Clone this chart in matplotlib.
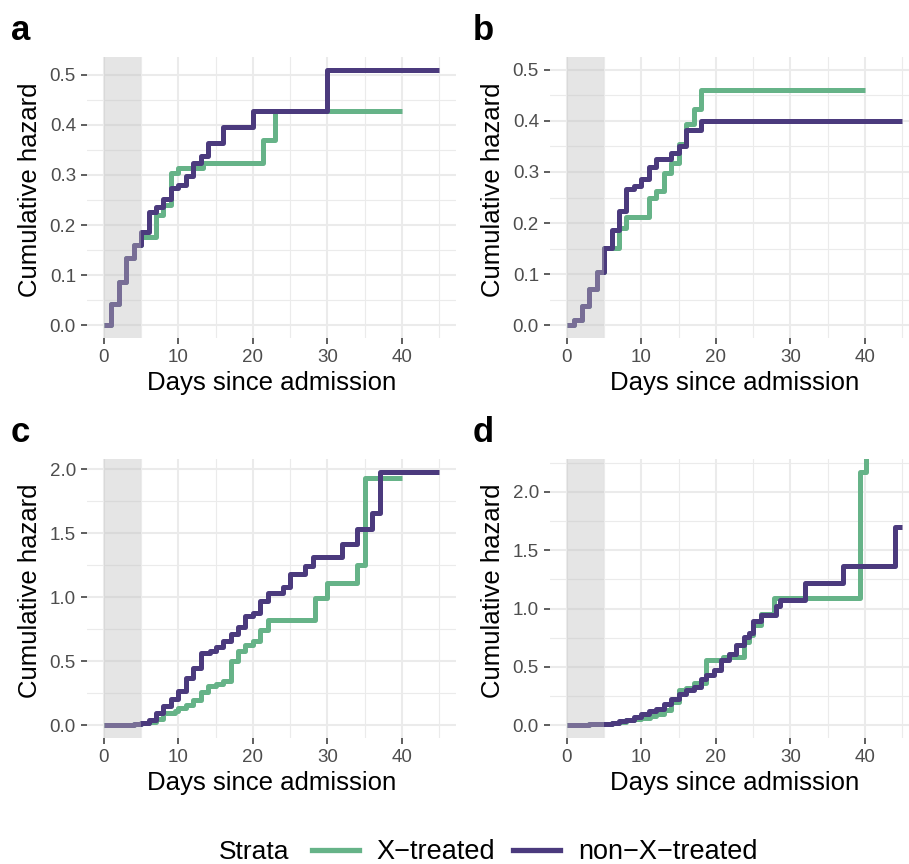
import matplotlib
matplotlib.use("Agg")
import matplotlib.pyplot as plt
from matplotlib.lines import Line2D
from matplotlib.ticker import MultipleLocator, FixedLocator
import numpy as np

plt.rcParams['font.family'] = ['Liberation Sans', 'DejaVu Sans']

GREEN = "#66B388"
PURPLE = "#4B3A7D"

# ---------------- data (step functions: times, cumulative hazard) -------------
# panel a
a_treat_t = [0, 1, 2, 3, 4, 5, 7, 8, 9, 10, 13.3, 21.3, 23, 40]
a_treat_v = [0, 0.043, 0.087, 0.135, 0.16, 0.177, 0.22, 0.24, 0.303, 0.313, 0.323, 0.37, 0.428, 0.428]
a_non_t = [0, 1, 2, 3, 4, 5, 6, 7, 8, 9, 10, 11, 12, 13, 14, 16, 20, 30, 45]
a_non_v = [0, 0.043, 0.087, 0.135, 0.16, 0.187, 0.227, 0.237, 0.253, 0.273, 0.28, 0.297, 0.323,
           0.337, 0.363, 0.395, 0.427, 0.51, 0.51]

# panel b
b_treat_t = [0, 1, 2, 3, 4, 5, 7, 8, 11, 12, 13, 14, 15, 16, 17, 18, 40]
b_treat_v = [0, 0.01, 0.038, 0.07, 0.105, 0.152, 0.19, 0.212, 0.25, 0.263, 0.298, 0.318, 0.354,
             0.393, 0.423, 0.46, 0.46]
b_non_t = [0, 1, 2, 3, 4, 5, 6, 7, 8, 9, 10, 11, 12, 14, 15, 16, 18, 45]
b_non_v = [0, 0.01, 0.038, 0.07, 0.105, 0.152, 0.186, 0.224, 0.266, 0.273, 0.287, 0.309, 0.325,
           0.338, 0.351, 0.382, 0.40, 0.40]

# panel c
c_treat_t = [0, 1, 2, 3, 4, 5, 6, 7, 8, 9.5, 10, 11, 12, 13, 14, 15, 16, 17, 18, 19, 20, 21, 22,
             28.4, 30, 34, 35, 40]
c_treat_v = [0, 0.002, 0.004, 0.006, 0.009, 0.015, 0.025, 0.05, 0.096, 0.115, 0.135, 0.16, 0.2,
             0.257, 0.304, 0.325, 0.343, 0.50, 0.584, 0.63, 0.655, 0.745, 0.825, 0.997, 1.11,
             1.25, 1.93, 1.93]
c_non_t = [0, 1, 2, 3, 4, 5, 6, 7, 8, 9, 10, 11, 12, 13, 14.2, 15, 16, 17, 18, 19, 20, 21, 22,
           24, 25, 27, 28, 32, 34, 36, 37, 45]
c_non_v = [0, 0.002, 0.004, 0.006, 0.009, 0.018, 0.044, 0.096, 0.148, 0.205, 0.265, 0.369, 0.447,
           0.566, 0.584, 0.61, 0.66, 0.716, 0.765, 0.852, 0.88, 0.973, 1.036, 1.076, 1.18, 1.245,
           1.315, 1.414, 1.53, 1.656, 1.98, 1.98]

# panel d
d_treat_t = [0, 1, 2, 3, 4, 5, 6, 7, 8, 9, 10, 11.1, 12, 13, 14, 15, 16, 17, 18.7, 21, 23.8,
             24.5, 25, 26, 27.8, 39.3, 40.2]
d_treat_v = [0, 0.003, 0.006, 0.009, 0.012, 0.016, 0.02, 0.03, 0.045, 0.055, 0.065, 0.08, 0.1,
             0.13, 0.2, 0.3, 0.32, 0.36, 0.557, 0.586, 0.714, 0.77, 0.857, 0.95, 1.09, 2.17, 2.4]
d_non_t = [0, 1, 2, 3, 4, 5, 6, 7, 8, 9, 10, 11, 12, 13, 14, 15, 16, 17, 18, 18.7, 19.8, 20.7,
           21.8, 22.7, 23.8, 24.4, 25, 26, 28, 28.6, 32, 37, 44, 45]
d_non_v = [0, 0.003, 0.006, 0.009, 0.012, 0.016, 0.023, 0.035, 0.05, 0.07, 0.1, 0.12, 0.143,
           0.18, 0.229, 0.271, 0.3, 0.33, 0.4, 0.43, 0.471, 0.557, 0.614, 0.686, 0.757, 0.79,
           0.89, 0.948, 1.02, 1.076, 1.219, 1.361, 1.694, 1.694]

panel_labels = ["a", "b", "c", "d"]
strata_labels = ["X\u2212treated", "non\u2212X\u2212treated"]
x_ticks = [0, 10, 20, 30, 40]
shade_end = 5

W, H = 909, 864
fig = plt.figure(figsize=(W / 100, H / 100), dpi=100)


def add_ax(x0, y0, x1, y1):
    return fig.add_axes([x0 / W, 1 - y1 / H, (x1 - x0) / W, (y1 - y0) / H])


panels = [
    dict(box=(87, 57, 456, 338), tr=(a_treat_t, a_treat_v), nt=(a_non_t, a_non_v),
         ylim=(-0.0255, 0.5355), major=0.1, minor=0.05, lab=(11, 30)),
    dict(box=(550, 57, 919, 338), tr=(b_treat_t, b_treat_v), nt=(b_non_t, b_non_v),
         ylim=(-0.025, 0.525), major=0.1, minor=0.05, lab=(473, 30)),
    dict(box=(87, 459, 456, 738), tr=(c_treat_t, c_treat_v), nt=(c_non_t, c_non_v),
         ylim=(-0.099, 2.079), major=0.5, minor=0.25, lab=(11, 432)),
    dict(box=(550, 459, 919, 738), tr=(d_treat_t, d_treat_v), nt=(d_non_t, d_non_v),
         ylim=(-0.108, 2.28), major=0.5, minor=0.25, lab=(473, 432)),
]

for p, letter in zip(panels, panel_labels):
    x0, y0, x1, y1 = p["box"]
    ax = add_ax(x0, y0, x1, y1)
    ax.set_xlim(-2.25, 47.25)
    ax.set_ylim(*p["ylim"])
    for s in ax.spines.values():
        s.set_visible(False)
    ax.xaxis.set_major_locator(FixedLocator(x_ticks))
    ax.xaxis.set_minor_locator(FixedLocator([5, 15, 25, 35, 45]))
    ymaj = np.arange(0, p["ylim"][1] + 1e-9, p["major"])
    ax.yaxis.set_major_locator(FixedLocator(ymaj))
    ax.yaxis.set_minor_locator(MultipleLocator(p["minor"]))
    ax.set_yticklabels(["{:.1f}".format(v) for v in ymaj])
    ax.set_xticklabels([str(v) for v in x_ticks])
    ax.grid(which="major", color="#EBEBEB", lw=1.5, zorder=0)
    ax.grid(which="minor", color="#EBEBEB", lw=0.8, zorder=0)
    ax.set_axisbelow(True)
    ax.tick_params(which="major", length=4, width=1.1, color="#333333",
                   labelcolor="#4D4D4D", labelsize=13.5, pad=4)
    ax.tick_params(which="minor", length=0)

    t, v = p["tr"]
    ax.step(t, v, where="post", color=GREEN, lw=3.6, zorder=3, solid_capstyle="butt")
    t, v = p["nt"]
    ax.step(t, v, where="post", color=PURPLE, lw=3.6, zorder=4, solid_capstyle="butt")
    ax.axvspan(0, shade_end, color=(0.745, 0.745, 0.745), alpha=0.4, lw=0, zorder=5)

    ax.set_xlabel("Days since admission", fontsize=18.5)
    ax.set_ylabel("Cumulative hazard", fontsize=18.5)
    ax.xaxis.label.set_va("center")
    ax.yaxis.label.set_va("center")
    ax.xaxis.set_label_coords(0.5, -45 / (y1 - y0))
    ax.yaxis.set_label_coords(-57 / (x1 - x0), 0.527)

    lx, ly = p["lab"]
    fig.text(lx / W, 1 - ly / H, letter, fontsize=25, fontweight="bold", va="center", ha="left")

# legend
fig.text(219 / W, 1 - 852 / H, "Strata", fontsize=19, va="center", ha="left")
handles = [Line2D([], [], color=GREEN, lw=3.8), Line2D([], [], color=PURPLE, lw=3.8)]
fig.legend(handles, strata_labels, loc="center left", bbox_to_anchor=(312 / W, 1 - 852 / H),
           ncol=2, frameon=False, fontsize=19.5, handlelength=1.73, handletextpad=0.66,
           columnspacing=0.66, borderpad=0, borderaxespad=0)

fig.savefig("out.png", dpi=100)
